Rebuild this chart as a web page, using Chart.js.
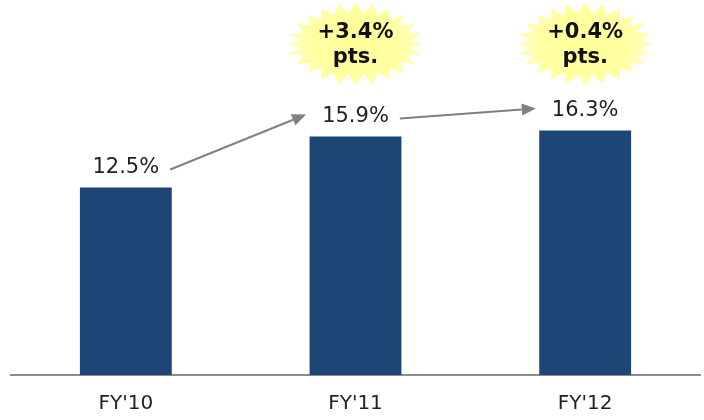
<!DOCTYPE html>
<html>
<head>
<meta charset="utf-8">
<script src="https://cdn.jsdelivr.net/npm/chart.js@4"></script>
<style>
html,body{margin:0;padding:0;background:#fff;}
#c{display:block;}
</style>
</head>
<body>
<canvas id="c" width="704" height="420"></canvas>
<script>
const categories = ["FY'10", "FY'11", "FY'12"];
const margins = [12.5, 15.9, 16.3];
const valueLabels = ["12.5%", "15.9%", "16.3%"];
const changeLabels = ["+3.4%", "+0.4%"];
const changeUnit = "pts.";

const FONT = "'DejaVu Sans', Verdana, sans-serif";

function starburst(ctx, cx, cy, rxO, ryO, rxI, ryI, n) {
  ctx.save();
  ctx.beginPath();
  for (let i = 0; i < n * 2; i++) {
    const a = -Math.PI / 2 + i * Math.PI / n;
    const outer = i % 2 === 0;
    const rx = outer ? rxO : rxI, ry = outer ? ryO : ryI;
    const x = cx + Math.cos(a) * rx, y = cy + Math.sin(a) * ry;
    if (i === 0) ctx.moveTo(x, y); else ctx.lineTo(x, y);
  }
  ctx.closePath();
  const g = ctx.createRadialGradient(cx, cy, 5, cx, cy, rxO);
  g.addColorStop(0, '#FFFF99');
  g.addColorStop(0.6, '#FFFFA3');
  g.addColorStop(1, '#FFFFC4');
  ctx.fillStyle = g;
  ctx.fill();
  ctx.restore();
}

function arrow(ctx, x1, y1, x2, y2) {
  const ang = Math.atan2(y2 - y1, x2 - x1);
  const hl = 14, hw = 6;
  const bx = x2 - Math.cos(ang) * hl, by = y2 - Math.sin(ang) * hl;
  ctx.save();
  ctx.strokeStyle = '#808080';
  ctx.fillStyle = '#808080';
  ctx.lineWidth = 2;
  ctx.beginPath();
  ctx.moveTo(x1, y1);
  ctx.lineTo(bx, by);
  ctx.stroke();
  ctx.beginPath();
  ctx.moveTo(x2, y2);
  ctx.lineTo(bx + Math.sin(ang) * hw, by - Math.cos(ang) * hw);
  ctx.lineTo(bx - Math.sin(ang) * hw, by + Math.cos(ang) * hw);
  ctx.closePath();
  ctx.fill();
  ctx.restore();
}

const annotate = {
  id: 'annotate',
  afterDatasetsDraw(chart) {
    const ctx = chart.ctx;
    const meta = chart.getDatasetMeta(0);
    ctx.save();
    ctx.font = '21px ' + FONT;
    ctx.textAlign = 'center';
    ctx.textBaseline = 'middle';
    ctx.fillStyle = '#222222';
    const boxes = [];
    meta.data.forEach((bar, i) => {
      const y = bar.y - 20;
      ctx.fillText(valueLabels[i], bar.x, y);
      const w = ctx.measureText(valueLabels[i]).width;
      boxes.push({ l: bar.x - w / 2, r: bar.x + w / 2, y: y });
    });
    ctx.restore();
    for (let i = 0; i < boxes.length - 1; i++) {
      const a = boxes[i], b = boxes[i + 1];
      arrow(ctx, a.r + 11, a.y + 2, b.l - 16, b.y - 2);
    }
    for (let i = 1; i < meta.data.length; i++) {
      const cx = meta.data[i].x;
      const cy = 44;
      starburst(ctx, cx, cy, 69, 41, 56, 31, 24);
      ctx.save();
      ctx.fillStyle = '#111111';
      ctx.font = 'bold 21px ' + FONT;
      ctx.textAlign = 'center';
      ctx.textBaseline = 'middle';
      ctx.fillText(changeLabels[i - 1], cx, cy - 11);
      ctx.fillText(changeUnit, cx, cy + 14);
      ctx.restore();
    }
  }
};

new Chart(document.getElementById('c'), {
  type: 'bar',
  data: {
    labels: categories,
    datasets: [{
      data: margins,
      backgroundColor: '#1D4677',
      barPercentage: 0.4,
      categoryPercentage: 1.0
    }]
  },
  options: {
    responsive: false,
    animation: false,
    layout: { padding: { left: 11, right: 4, top: 0, bottom: 0 } },
    plugins: { legend: { display: false }, tooltip: { enabled: false } },
    scales: {
      x: {
        grid: { display: false, drawTicks: false },
        border: { color: '#8C8C8C', width: 2 },
        ticks: { color: '#222222', font: { family: FONT, size: 20 }, padding: 17 },
        afterFit(s) { s.height = 45; }
      },
      y: { display: false, min: 0, max: 25 }
    }
  },
  plugins: [annotate]
});
</script>
</body>
</html>
